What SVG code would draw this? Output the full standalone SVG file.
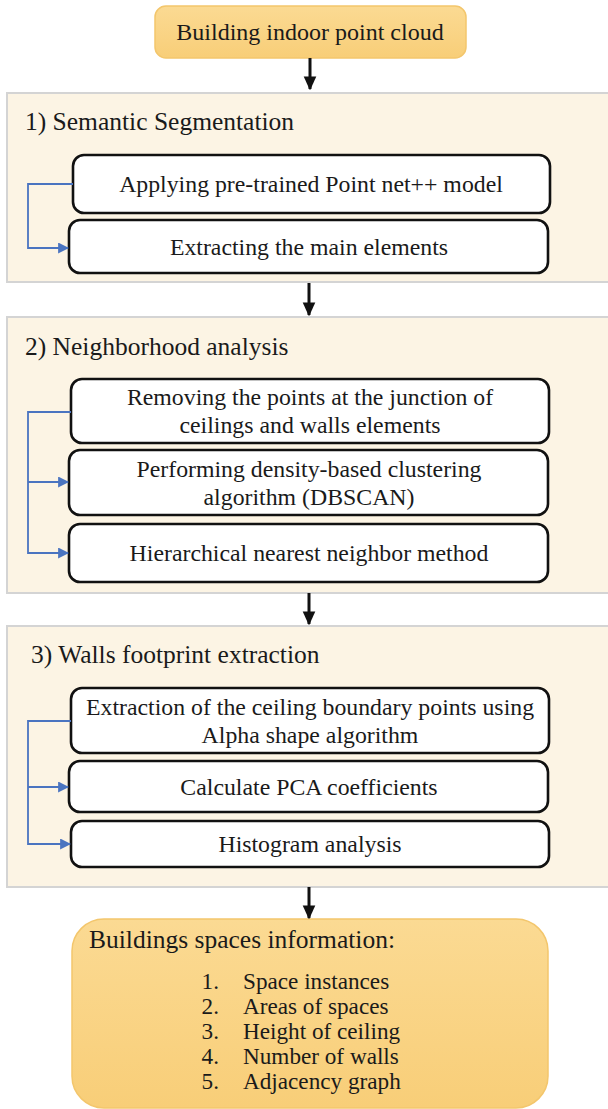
<svg xmlns="http://www.w3.org/2000/svg" width="608" height="1109" viewBox="0 0 608 1109">
<style>
text{font-family:"Liberation Serif","Times New Roman",serif;fill:#1a1a1a}
.t{font-size:23.8px;text-anchor:middle}
.h{font-size:25.5px}
.panel{fill:#FCF4E4;stroke:#D4D4D4;stroke-width:2}
.box{fill:#FFFFFF;stroke:#111;stroke-width:2.6}
.term{fill:url(#gold);stroke:#F3C66C;stroke-width:1.5}
.blue{fill:none;stroke:#4A74C0;stroke-width:1.8}
.blk{fill:none;stroke:#111;stroke-width:3}
</style>
<defs>
<linearGradient id="gold" x1="0" y1="0" x2="0" y2="1">
<stop offset="0" stop-color="#FBDA93"/>
<stop offset="1" stop-color="#F8CE78"/>
</linearGradient>
<marker id="ab" viewBox="0 0 10 10" refX="9" refY="5" markerWidth="11" markerHeight="11" markerUnits="userSpaceOnUse" orient="auto">
<path d="M0,0 L10,5 L0,10 z" fill="#4A74C0"/>
</marker>
<marker id="ak" viewBox="0 0 10 10" refX="9" refY="5" markerWidth="14" markerHeight="14" markerUnits="userSpaceOnUse" orient="auto">
<path d="M0,0.5 L10,5 L0,9.5 z" fill="#111"/>
</marker>
</defs>
<rect width="608" height="1109" fill="#FFFFFF"/>

<g id="panel1"><rect class="panel" x="7" y="93" width="610" height="189"/><text class="h" x="25" y="130">1) Semantic Segmentation</text></g>
<g id="panel2"><rect class="panel" x="7" y="317" width="610" height="276"/><text class="h" x="25" y="355">2) Neighborhood analysis</text></g>
<g id="panel3"><rect class="panel" x="7" y="626" width="610" height="261"/><text class="h" x="31" y="663">3) Walls footprint extraction</text></g>

<g id="start"><rect class="term" x="155" y="6" width="311" height="52" rx="11"/><text class="t" x="310" y="40" style="font-size:24px">Building indoor point cloud</text></g>

<g id="n1a"><rect class="box" x="73" y="155" width="477" height="58" rx="11"/><text class="t" x="311" y="192">Applying pre-trained Point net++ model</text></g>
<g id="n1b"><rect class="box" x="69" y="220" width="479" height="53" rx="11"/><text class="t" x="309" y="255">Extracting the main elements</text></g>

<g id="n2a"><rect class="box" x="71" y="379" width="478" height="64" rx="11"/><text class="t" x="310" y="405">Removing the points at the junction of</text><text class="t" x="310" y="433">ceilings and walls elements</text></g>
<g id="n2b"><rect class="box" x="69" y="450" width="479" height="65" rx="11"/><text class="t" x="309" y="477">Performing density-based clustering</text><text class="t" x="309" y="505">algorithm (DBSCAN)</text></g>
<g id="n2c"><rect class="box" x="69" y="524" width="479" height="58" rx="11"/><text class="t" x="309" y="561">Hierarchical nearest neighbor method</text></g>

<g id="n3a"><rect class="box" x="71" y="688" width="478" height="65" rx="11"/><text class="t" x="310" y="715">Extraction of the ceiling boundary points using</text><text class="t" x="310" y="743">Alpha shape algorithm</text></g>
<g id="n3b"><rect class="box" x="69" y="761" width="479" height="51" rx="11"/><text class="t" x="309" y="795">Calculate PCA coefficients</text></g>
<g id="n3c"><rect class="box" x="71" y="821" width="478" height="46" rx="11"/><text class="t" x="310" y="852">Histogram analysis</text></g>

<g id="end"><rect class="term" x="72" y="919" width="476" height="189" rx="32"/>
<text class="h" x="89" y="948">Buildings spaces information:</text>
<g style="font-size:23.2px">
<text x="219" y="989" text-anchor="end">1.</text><text x="243" y="989">Space instances</text>
<text x="219" y="1014" text-anchor="end">2.</text><text x="243" y="1014">Areas of spaces</text>
<text x="219" y="1039" text-anchor="end">3.</text><text x="243" y="1039">Height of ceiling</text>
<text x="219" y="1064" text-anchor="end">4.</text><text x="243" y="1064">Number of walls</text>
<text x="219" y="1089" text-anchor="end">5.</text><text x="243" y="1089">Adjacency graph</text>
</g></g>

<g id="connectors">
<path class="blk" d="M310,58 V89" marker-end="url(#ak)"/>
<path class="blk" d="M309,283 V315" marker-end="url(#ak)"/>
<path class="blk" d="M309,593 V624" marker-end="url(#ak)"/>
<path class="blk" d="M309,887 V918" marker-end="url(#ak)"/>
<path class="blue" d="M73,184 H28 V248 H68" marker-end="url(#ab)"/>
<path class="blue" d="M71,412 H28 V553 H68" marker-end="url(#ab)"/>
<path class="blue" d="M28,482 H68" marker-end="url(#ab)"/>
<path class="blue" d="M71,721 H28 V844 H70" marker-end="url(#ab)"/>
<path class="blue" d="M28,787 H68" marker-end="url(#ab)"/>
</g>
</svg>
